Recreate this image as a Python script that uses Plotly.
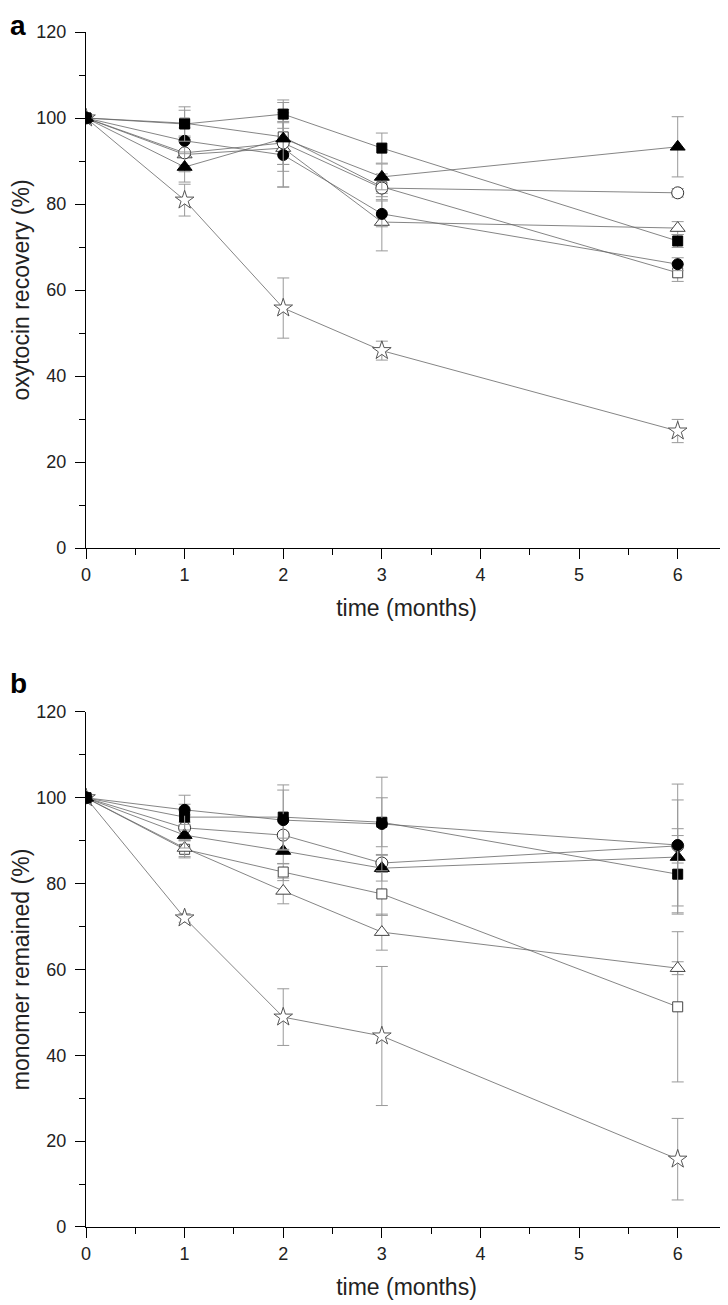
import plotly.graph_objects as go

months = [0, 1, 2, 3, 6]

# panel a: oxytocin recovery (%)
sq_fill_a = [100, 98.6, 100.9, 93.0, 71.4]
sq_fill_a_err = [0, 4.0, 3.3, 3.5, 1.5]
ci_fill_a = [100, 94.7, 91.4, 77.7, 66.0]
ci_fill_a_err = [0, 3.0, 7.5, 3.0, 1.5]
tr_fill_a = [100, 88.6, 95.2, 86.3, 93.3]
tr_fill_a_err = [0, 3.5, 6.0, 3.0, 7.0]
ci_open_a = [100, 91.9, 94.2, 83.7, 82.6]
ci_open_a_err = [0, 3.0, 5.0, 2.0, 1.0]
tr_open_a = [100, 91.5, 93.0, 75.8, 74.4]
tr_open_a_err = [0, 4.0, 9.0, 6.7, 1.5]
sq_open_a = [100, 98.8, 95.6, 84.0, 64.0]
sq_open_a_err = [0, 3.0, 8.0, 3.0, 2.0]
star_a = [100, 80.9, 55.8, 45.9, 27.2]
star_a_err = [0, 3.7, 7.0, 2.2, 2.7]

# panel b: monomer remained (%)
sq_fill_b = [100, 95.5, 95.5, 94.3, 82.2]
sq_fill_b_err = [0, 3.0, 7.5, 5.7, 9.0]
ci_fill_b = [100, 97.2, 94.8, 93.9, 89.0]
ci_fill_b_err = [0, 3.4, 7.0, 10.9, 14.2]
tr_fill_b = [100, 91.3, 87.6, 83.6, 86.2]
tr_fill_b_err = [0, 3.0, 3.0, 3.0, 13.3]
ci_open_b = [100, 93.0, 91.3, 84.8, 88.8]
ci_open_b_err = [0, 3.0, 4.0, 2.0, 4.0]
tr_open_b = [100, 88.3, 78.3, 68.7, 60.3]
tr_open_b_err = [0, 2.0, 3.0, 4.2, 1.5]
sq_open_b = [100, 88.0, 82.7, 77.6, 51.3]
sq_open_b_err = [0, 2.0, 2.0, 5.0, 17.5]
star_b = [100, 72.0, 48.9, 44.5, 15.8]
star_b_err = [0, 1.0, 6.6, 16.2, 9.5]

panels = {
    "a": [
        (star_a, star_a_err, "star", "white", "#555", 14),
        (sq_open_a, sq_open_a_err, "square", "white", "#444", 10),
        (tr_open_a, tr_open_a_err, "triangle-up", "white", "#444", 13),
        (ci_open_a, ci_open_a_err, "circle", "white", "#333", 12),
        (ci_fill_a, ci_fill_a_err, "circle", "black", "black", 11),
        (tr_fill_a, tr_fill_a_err, "triangle-up", "black", "black", 13),
        (sq_fill_a, sq_fill_a_err, "square", "black", "black", 10),
    ],
    "b": [
        (star_b, star_b_err, "star", "white", "#555", 14),
        (sq_open_b, sq_open_b_err, "square", "white", "#444", 10),
        (tr_open_b, tr_open_b_err, "triangle-up", "white", "#444", 13),
        (ci_open_b, ci_open_b_err, "circle", "white", "#333", 12),
        (tr_fill_b, tr_fill_b_err, "triangle-up", "black", "black", 13),
        (sq_fill_b, sq_fill_b_err, "square", "black", "black", 10),
        (ci_fill_b, ci_fill_b_err, "circle", "black", "black", 11),
    ],
}

fig = go.Figure()
for key, ax in (("a", ""), ("b", "2")):
    for vals, errs, sym, fill, edge, size in panels[key]:
        fig.add_trace(
            go.Scatter(
                x=months,
                y=vals,
                xaxis="x" + ax,
                yaxis="y" + ax,
                mode="lines+markers",
                line=dict(color="#666", width=0.8),
                marker=dict(symbol=sym, size=size, color=fill,
                            line=dict(color=edge, width=1)),
                error_y=dict(type="data", array=errs, color="#999",
                             thickness=1, width=6),
                showlegend=False,
            )
        )

xstyle = dict(
    range=[0, 6.5], dtick=1, tick0=0, automargin=False,
    showline=True, linecolor="black", linewidth=1.3,
    ticks="outside", ticklen=10, tickcolor="black", tickwidth=1.3,
    minor=dict(dtick=0.5, ticks="outside", ticklen=6, tickcolor="black", tickwidth=1.3),
    showgrid=False, zeroline=False,
    tickfont=dict(size=18, color="#222"),
    title=dict(text="time (months)", font=dict(size=23, color="#222"), standoff=16),
)
ystyle = dict(
    range=[0, 120], dtick=20, tick0=0, automargin=False,
    showline=True, linecolor="black", linewidth=1.3,
    ticks="outside", ticklen=10, tickcolor="black", tickwidth=1.3,
    minor=dict(dtick=10, ticks="outside", ticklen=6, tickcolor="black", tickwidth=1.3),
    showgrid=False, zeroline=False, ticklabelstandoff=5,
    tickfont=dict(size=18, color="#222"),
)

# the page body adds an 8px offset, so the figure is 8px smaller each way
W, H = 720, 1297
ML, MR, MT, MB = 78, 1, 24, 78
plot_h = H - MT - MB
plot_w = W - ML - MR

fig.update_layout(
    width=W,
    height=H,
    margin=dict(l=ML, r=MR, t=MT, b=MB),
    paper_bgcolor="white",
    plot_bgcolor="white",
    font=dict(family="Liberation Sans, Arial, sans-serif"),
    xaxis=dict(xstyle, domain=[0, 1], anchor="y"),
    yaxis=dict(ystyle, domain=[0.5682, 1], anchor="x",
               title=dict(text="oxytocin recovery (%)", font=dict(size=23, color="#222"), standoff=6)),
    xaxis2=dict(xstyle, domain=[0, 1], anchor="y2"),
    yaxis2=dict(ystyle, domain=[0, 0.431], anchor="x2",
                title=dict(text="monomer remained (%)", font=dict(size=23, color="#222"), standoff=6)),
    annotations=[
        dict(text="<b>a</b>", x=-ML / plot_w, y=1 + MT / plot_h, xref="paper", yref="paper",
             showarrow=False, xanchor="left", yanchor="top", font=dict(size=28, color="black")),
        dict(text="<b>b</b>", x=-ML / plot_w, y=(1219 - 675) / plot_h, xref="paper", yref="paper",
             showarrow=False, xanchor="left", yanchor="middle", font=dict(size=28, color="black")),
    ],
)

fig.write_html("out.html")
